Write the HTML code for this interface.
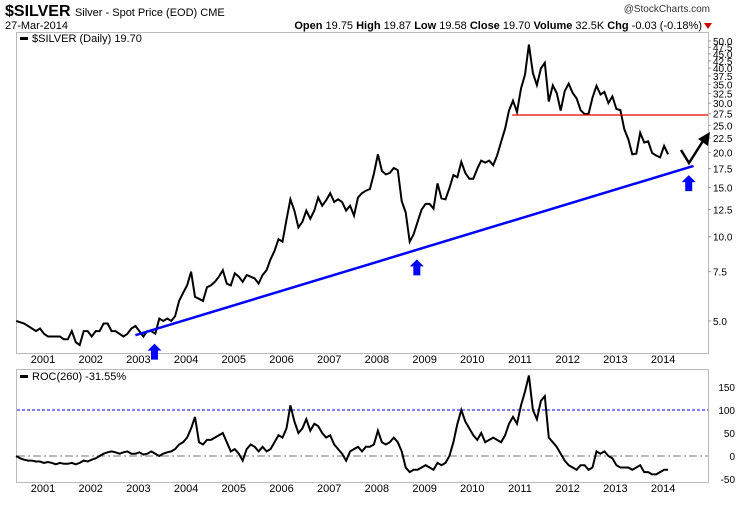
<!DOCTYPE html>
<html><head><meta charset="utf-8"><style>
body{margin:0;background:#fff;width:750px;height:500px;overflow:hidden;font-family:"Liberation Sans",sans-serif}
svg text{font-family:"Liberation Sans",sans-serif}
</style></head><body>
<svg id="c" width="750" height="500">
<text x="5" y="16" font-size="16" font-weight="bold">$SILVER <tspan font-size="11" font-weight="normal">Silver - Spot Price (EOD) CME</tspan></text>
<text x="5" y="29" font-size="11">27-Mar-2014</text>
<text x="710" y="12" font-size="10" text-anchor="end" fill="#333">@StockCharts.com</text>
<text x="702" y="29" font-size="11" text-anchor="end"><tspan font-weight="bold">Open</tspan> 19.75 <tspan font-weight="bold">High</tspan> 19.87 <tspan font-weight="bold">Low</tspan> 19.58 <tspan font-weight="bold">Close</tspan> 19.70 <tspan font-weight="bold">Volume</tspan> 32.5K <tspan font-weight="bold">Chg</tspan> -0.03 (-0.18%)</text>
<polygon points="704,23 712,23 708,29" fill="#c00"/>
<rect x="16.5" y="32.5" width="692" height="321" fill="none" stroke="#bbb"/>
<rect x="16.5" y="369.5" width="692" height="113" fill="none" stroke="#bbb"/>
<g id="g"></g>
<rect x="20" y="37" width="8" height="3" fill="#000"/>
<text x="32" y="42" font-size="11" font-family="Liberation Mono">$SILVER (Daily) 19.70</text>
<rect x="20" y="375" width="8" height="3" fill="#000"/>
<text x="32" y="380" font-size="11" font-family="Liberation Mono">ROC(260) -31.55%</text>
</svg>
<script>
const years=[2001,2002,2003,2004,2005,2006,2007,2008,2009,2010,2011,2012,2013,2014];
const priceTicks=[50,47.5,45,42.5,40,37.5,35,32.5,30,27.5,25,22.5,20,17.5,15,12.5,10,7.5,5];
const priceTickLabels=["50.0","47.5","45.0","42.5","40.0","37.5","35.0","32.5","30.0","27.5","25.0","22.5","20.0","17.5","15.0","12.5","10.0","7.5","5.0"];
const rocTicks=[150,100,50,0,-50];
// monthly, starting Jul 2000
const prices=[5.0,4.95,4.9,4.8,4.7,4.6,
4.7,4.5,4.4,4.4,4.4,4.4,4.3,4.3,4.6,4.2,4.1,4.6,
4.6,4.4,4.6,4.6,4.9,4.9,4.6,4.6,4.5,4.4,4.5,4.7,
4.8,4.6,4.4,4.6,4.6,4.5,5.1,5.0,5.1,5.0,5.2,5.9,
6.3,6.7,7.5,6.1,6.0,5.9,6.6,6.7,6.9,7.2,7.6,6.8,
6.7,7.4,7.2,6.9,7.3,7.2,7.1,6.8,7.3,7.6,8.3,8.9,
9.8,9.6,11.5,13.6,12.4,10.8,11.3,12.4,11.6,12.4,13.8,12.9,
13.5,14.3,13.3,13.6,13.3,12.4,12.9,11.9,13.8,14.3,14.6,14.8,
16.8,19.7,17.2,16.7,16.9,17.6,17.3,13.4,12.2,9.6,10.2,11.3,
12.5,13.1,13.1,12.6,15.5,13.7,13.6,14.9,16.6,16.3,18.5,16.9,
16.1,16.1,17.5,18.7,18.4,18.7,18.0,19.5,21.8,24.3,28.2,30.6,
27.9,33.8,37.9,48.6,38.4,34.8,39.9,41.8,30.4,34.7,32.6,28.2,
33.1,35.2,32.6,31.2,28.3,27.4,27.5,31.4,34.6,32.2,32.9,30.0,
31.7,28.6,28.3,24.2,22.3,19.7,19.8,23.5,21.7,21.9,19.9,19.5,
19.2,21.1,19.7];
const roc=[0,-5,-8,-10,-10,-12,
-12,-15,-13,-15,-18,-15,-17,-17,-15,-18,-15,-10,
-12,-8,-5,0,5,8,10,8,5,8,10,5,
5,8,3,5,10,5,0,5,8,10,15,25,
30,40,60,85,30,25,35,35,40,45,50,30,
10,15,5,-10,15,25,20,10,20,10,15,30,
45,40,60,110,75,50,60,80,55,70,65,50,
40,45,25,15,5,-10,10,15,20,10,20,20,
25,55,30,25,30,40,30,10,-25,-35,-30,-30,
-25,-20,-25,-30,-15,-20,-15,0,30,70,100,75,
60,45,35,50,30,35,40,35,30,45,70,85,
70,110,140,175,100,80,120,130,40,30,20,5,
-10,-20,-25,-30,-20,-20,-30,-25,10,5,10,0,
-5,-20,-25,-25,-25,-30,-25,-20,-35,-35,-40,-40,
-35,-30,-30];
const startYear=2000.5;
const redLevel=27.2;
const trendStart=[2003.0,4.45], trendEnd=[2014.7,17.9];
const arrows=[[2003.4,4.15],[2008.9,8.3],[2014.6,16.6]];

const NS="http://www.w3.org/2000/svg";
const g=document.getElementById('g');
function X(t){return 40+(t-2001)*47.7;}
function Yp(p){return 321-280*Math.log10(p/5);}
function Yr(v){return 456-v*23/50;}
function mk(tag,attrs){const e=document.createElementNS(NS,tag);for(const k in attrs)e.setAttribute(k,attrs[k]);g.appendChild(e);return e;}

years.forEach(y=>{
  [363,492].forEach((ty,j)=>{
    const t=mk('text',{x:X(y)+3,y:ty,'font-size':11,'text-anchor':'middle'});
    t.textContent=String(y);
    
    
  });
});
priceTicks.forEach((p,i)=>{
  const t=mk('text',{x:713,y:Yp(p)+4,'font-size':10});
  t.textContent=priceTickLabels[i];
  
  
  const l=mk('line',{x1:708,x2:711,y1:Yp(p),y2:Yp(p),stroke:'#999'});
  
  
});
rocTicks.forEach(v=>{
  const t=mk('text',{x:735,y:Yr(v)+4,'font-size':10,'text-anchor':'end'});
  t.textContent=String(v);
  
  
});
let l=mk('line',{x1:17,x2:708,y1:Yr(100),y2:Yr(100),stroke:'#00f','stroke-dasharray':'3,2'});


l=mk('line',{x1:17,x2:708,y1:Yr(0),y2:Yr(0),stroke:'#777','stroke-dasharray':'8,3,2,3'});



let d=prices.map((p,i)=>(i?'L':'M')+X(startYear+i/12).toFixed(1)+','+Yp(p).toFixed(1)).join('');
let pl=mk('path',{d:d,fill:'none',stroke:'#000','stroke-width':2});


d=roc.map((v,i)=>(i?'L':'M')+X(startYear+i/12).toFixed(1)+','+Yr(v).toFixed(1)).join('');
pl=mk('path',{d:d,fill:'none',stroke:'#000','stroke-width':2});



l=mk('line',{x1:X(2010.9),x2:708,y1:Yp(redLevel),y2:Yp(redLevel),stroke:'#e00','stroke-width':1.3});


l=mk('line',{x1:X(trendStart[0]),y1:Yp(trendStart[1]),x2:X(trendEnd[0]),y2:Yp(trendEnd[1]),stroke:'#00f','stroke-width':2.5});


arrows.forEach(a=>{
  const x=X(a[0]),y=Yp(a[1]);
  const p=mk('polygon',{points:`${x},${y} ${x+7},${y+7} ${x+3.5},${y+7} ${x+3.5},${y+16} ${x-3.5},${y+16} ${x-3.5},${y+7} ${x-7},${y+7}`,fill:'#00f'});
  
  
});
const pa=mk('path',{d:'M681,150 L689,163 L703,141',fill:'none',stroke:'#000','stroke-width':2.5});


const ph=mk('polygon',{points:'710,132 708,146 698,139',fill:'#000'});


</script>
</body></html>
